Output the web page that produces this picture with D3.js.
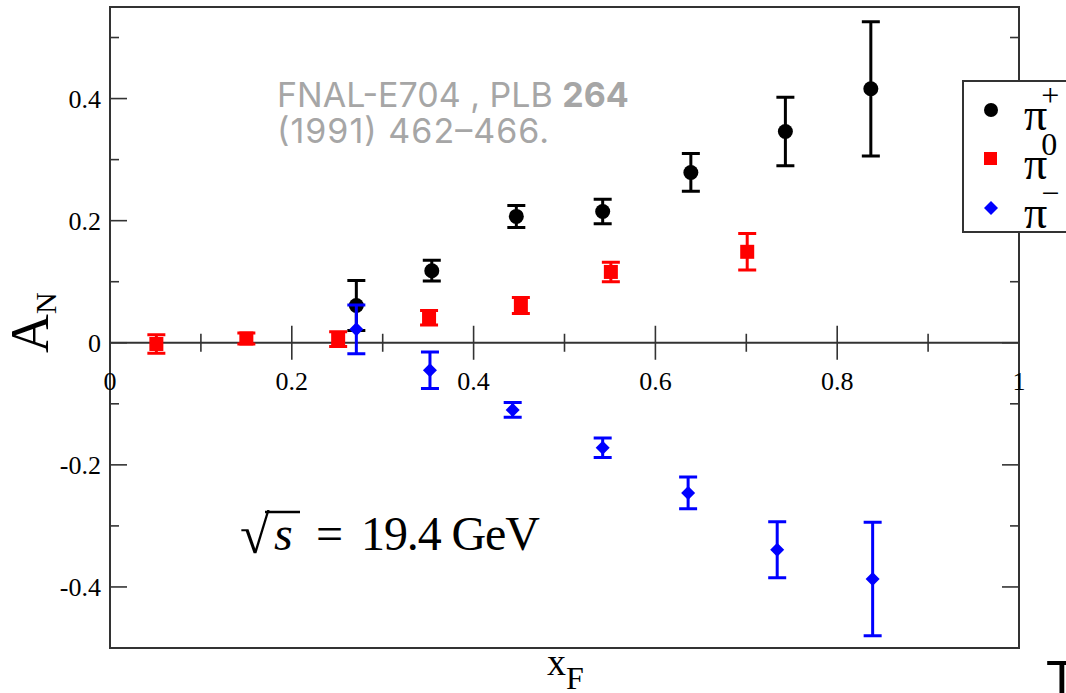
<!DOCTYPE html>
<html>
<head>
<meta charset="utf-8">
<script src="https://cdn.jsdelivr.net/npm/d3@7"></script>
<style>
  html, body { margin: 0; padding: 0; background: #fff; }
  svg { display: block; }
</style>
</head>
<body>
<svg width="1066" height="693"></svg>
<script>
// values: x_F, A_N and the error half-widths
var xPlus  = [0.271, 0.354, 0.447, 0.542, 0.639, 0.743, 0.837],
    aPlus  = [0.061, 0.118, 0.207, 0.215, 0.279, 0.346, 0.416],
    ePlus  = [0.041, 0.017, 0.018, 0.020, 0.031, 0.056, 0.110];
var xZero  = [0.051, 0.150, 0.251, 0.351, 0.452, 0.551, 0.701],
    aZero  = [-0.002, 0.007, 0.006, 0.041, 0.061, 0.116, 0.149],
    eZero  = [0.015, 0.009, 0.012, 0.012, 0.013, 0.016, 0.030];
var xMinus = [0.271, 0.352, 0.443, 0.542, 0.636, 0.734, 0.839],
    aMinus = [0.022, -0.045, -0.110, -0.172, -0.246, -0.339, -0.387],
    eMinus = [0.040, 0.030, 0.012, 0.016, 0.026, 0.046, 0.093];
var xMajor = [0, 0.2, 0.4, 0.6, 0.8, 1],
    xMinor = [0.1, 0.3, 0.5, 0.7, 0.9],
    yMajor = [-0.4, -0.2, 0, 0.2, 0.4],
    yMinor = [-0.3, -0.1, 0.1, 0.3, 0.5];
var legendNames = ["+", "0", "\u2212"];

var serif = "'Liberation Serif', 'Times New Roman', serif";
var svg = d3.select("svg");
var pLeft = 110, pRight = 1019, pTop = 7, pBottom = 648;

var x = d3.scaleLinear().domain([0, 1]).range([pLeft, pRight]),
    y = d3.scaleLinear().domain([-0.5, 0.55]).range([pBottom, pTop]);

// frame
svg.append("rect")
    .attr("x", pLeft).attr("y", pTop)
    .attr("width", pRight - pLeft).attr("height", pBottom - pTop)
    .attr("fill", "none").attr("stroke", "#333").attr("stroke-width", 2);

// zero line with crossing ticks
svg.append("line")
    .attr("x1", pLeft).attr("x2", pRight)
    .attr("y1", y(0)).attr("y2", y(0))
    .attr("stroke", "#333").attr("stroke-width", 2);
var g = svg.append("g").attr("stroke", "#333").attr("stroke-width", 1.6);
g.selectAll(".xmaj").data(xMajor.slice(1, -1)).enter().append("line")
    .attr("x1", x).attr("x2", x)
    .attr("y1", y(0) - 17).attr("y2", y(0) + 17);
g.selectAll(".xmin").data(xMinor).enter().append("line")
    .attr("x1", x).attr("x2", x)
    .attr("y1", y(0) - 9).attr("y2", y(0) + 9);

// y ticks on left and right edges, pointing inward
[[pLeft, 1], [pRight, -1]].forEach(function(s) {
  g.selectAll(null).data(yMajor).enter().append("line")
      .attr("x1", s[0]).attr("x2", s[0] + s[1] * 17)
      .attr("y1", y).attr("y2", y);
  g.selectAll(null).data(yMinor).enter().append("line")
      .attr("x1", s[0]).attr("x2", s[0] + s[1] * 9)
      .attr("y1", y).attr("y2", y);
});

// tick labels
svg.selectAll(".xl").data(xMajor).enter().append("text")
    .attr("x", x).attr("y", y(0) + 47)
    .attr("text-anchor", "middle")
    .style("font-family", serif).style("font-size", "26px")
    .text(function(d) { return d; });
svg.selectAll(".yl").data(yMajor).enter().append("text")
    .attr("x", pLeft - 9).attr("y", function(d) { return y(d) + 9; })
    .attr("text-anchor", "end")
    .style("font-family", serif).style("font-size", "26px")
    .text(function(d) { return d; });

// axis titles
var xt = svg.append("text").attr("x", 547).attr("y", 675)
    .style("font-family", serif).style("font-size", "38px");
xt.append("tspan").text("x");
xt.append("tspan").attr("dy", 14).style("font-size", "32px").text("F");

var yt = svg.append("text")
    .attr("transform", "translate(48,353) rotate(-90)")
    .style("font-family", serif).style("font-size", "54px");
yt.append("tspan").text("A");
yt.append("tspan").attr("dy", 8).style("font-size", "30px").text("N");

// error bars + markers
function series(xs, as, es, color) {
  var data = xs.map(function(v, i) { return {x: v, a: as[i], e: es[i]}; });
  var s = svg.append("g").attr("stroke", color).attr("stroke-width", 3).attr("fill", color);
  s.selectAll(".bar").data(data).enter().append("path")
      .attr("fill", "none")
      .attr("d", function(d) {
        var cx = x(d.x), y1 = y(d.a + d.e), y2 = y(d.a - d.e);
        return "M" + (cx - 9) + "," + y1 + "H" + (cx + 9) +
               "M" + cx + "," + y1 + "V" + y2 +
               "M" + (cx - 9) + "," + y2 + "H" + (cx + 9);
      });
  return s.selectAll(".pt").data(data).enter();
}
series(xPlus, aPlus, ePlus, "#000").append("circle")
    .attr("stroke", "none")
    .attr("cx", function(d) { return x(d.x); })
    .attr("cy", function(d) { return y(d.a); })
    .attr("r", 7.5);
series(xZero, aZero, eZero, "#f00").append("rect")
    .attr("stroke", "none")
    .attr("x", function(d) { return x(d.x) - 7; })
    .attr("y", function(d) { return y(d.a) - 7; })
    .attr("width", 14).attr("height", 14);
series(xMinus, aMinus, eMinus, "#00f").append("path")
    .attr("stroke", "none")
    .attr("d", function(d) {
      var cx = x(d.x), cy = y(d.a);
      return "M" + cx + "," + (cy - 7) + "L" + (cx + 7) + "," + cy +
             "L" + cx + "," + (cy + 7) + "L" + (cx - 7) + "," + cy + "Z";
    });

// legend
var lg = svg.append("g");
lg.append("rect").attr("x", 963).attr("y", 81).attr("width", 120).attr("height", 151)
    .attr("fill", "#fff").attr("stroke", "#333").attr("stroke-width", 2);
var rowY = [110, 159, 208];
lg.append("circle").attr("cx", 991).attr("cy", rowY[0]).attr("r", 7).attr("fill", "#000");
lg.append("rect").attr("x", 984).attr("y", rowY[1] - 7).attr("width", 13).attr("height", 13).attr("fill", "#f00");
lg.append("path").attr("fill", "#00f")
    .attr("d", "M991," + (rowY[2] - 7) + "l7,7l-7,7l-7,-7z");
legendNames.forEach(function(n, i) {
  var t = lg.append("text").attr("x", 1024).attr("y", rowY[i] + 20)
      .style("font-family", serif).style("font-size", "46px");
  t.append("tspan").text("\u03c0");
  t.append("tspan").attr("dx", -6).attr("dy", -24).style("font-size", "32px").text(n);
});

// notes
var sans = "Inter, Roboto, sans-serif";
var note = svg.append("text").attr("x", 277).attr("y", 107)
    .style("font-family", sans).style("font-size", "34px").attr("fill", "#a6a6a6");
note.append("tspan").text("FNAL-E704 , PLB ");
note.append("tspan").style("font-weight", "bold").text("264");
svg.append("text").attr("x", 277).attr("y", 143)
    .attr("textLength", 272).attr("lengthAdjust", "spacing")
    .style("font-family", sans).style("font-size", "34px").attr("fill", "#a6a6a6")
    .text("(1991) 462\u2013466.");

var rs = svg.append("g").style("font-family", serif).style("font-size", "48px");
rs.append("text").attr("x", 240).attr("y", 553).style("font-size", "54px").text("\u221a");
rs.append("text").attr("x", 274).attr("y", 550).style("font-style", "italic").text("s");
rs.append("line").attr("x1", 265).attr("x2", 300).attr("y1", 512).attr("y2", 512)
    .attr("stroke", "#000").attr("stroke-width", 2.5);
rs.append("text").attr("x", 316).attr("y", 550).text("=");
rs.append("text").attr("x", 361).attr("y", 550)
    .attr("textLength", 179).attr("lengthAdjust", "spacing").text("19.4 GeV");

// stray glyph at the bottom right corner
svg.append("text").attr("x", 1046).attr("y", 697)
    .style("font-family", "'Liberation Sans', Arial, sans-serif").style("font-size", "52px")
    .text("T");
</script>
</body>
</html>
